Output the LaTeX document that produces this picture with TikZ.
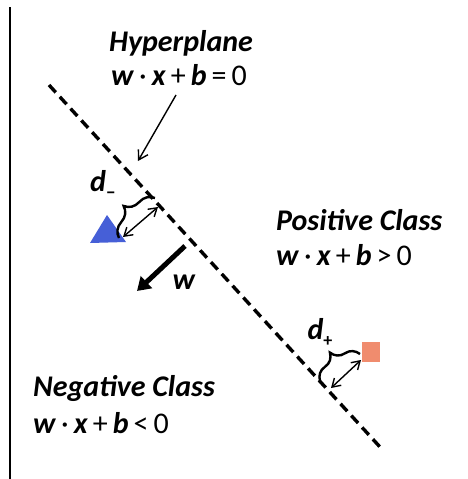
\documentclass[tikz,border=0pt]{standalone}
\usepackage{fontspec}
\setmainfont{Carlito}
\usetikzlibrary{arrows.meta,decorations.pathreplacing}
\definecolor{triblue}{RGB}{70,95,215}
\definecolor{sqred}{RGB}{240,140,110}
\newcommand{\bv}[1]{\textbf{\textit{#1}}}
\newcommand{\op}[1]{\,#1\,}
\tikzset{
  lbl/.style={font=\fontsize{30}{34}\selectfont, inner sep=0pt, align=left},
  hyper/.style={line width=3.4pt, dash pattern=on 10pt off 6pt},
  thinarrow/.style={line width=1.4pt, -{Straight Barb[length=9pt,width=11pt]}},
  dblarrow/.style={line width=1.4pt, {Straight Barb[length=8pt,width=10pt]}-{Straight Barb[length=8pt,width=10pt]}},
  bracestyle/.style={line width=2.4pt, decorate, decoration={brace, amplitude=18pt, aspect=0.5}},
}
\begin{document}
\begin{tikzpicture}[x=1pt,y=-1pt]
\useasboundingbox (0,0) rectangle (468,479);
\fill[white] (0,0) rectangle (468,479);
% left border
\coordinate (bt) at (10,7);
\coordinate (bb) at (10,479);
\draw[line width=2pt] (bt) -- (bb);
% hyperplane
\coordinate (h1) at (49,85);
\coordinate (h2) at (380,447);
\draw[hyper] (h1) -- (h2);
% labels
\node[lbl, anchor=center] (hyp) at (181,43) {\bv{Hyperplane}};
\node[lbl, anchor=center] (hypeq) at (179,75) {\bv{w}\,·\,\bv{x}\op{+}\bv{b}\op{=}0};
\coordinate (hypstart) at (176,95);
\coordinate (hypend) at (138,161);
\draw[thinarrow] (hypstart) -- (hypend);
\node[lbl, anchor=west] (pos) at (276,220) {\bv{Positive Class}};
\node[lbl, anchor=west] (poseq) at (276,255) {\bv{w}\,·\,\bv{x}\op{+}\bv{b}\op{>}0};
\node[lbl, anchor=west] (neg) at (33,388) {\bv{Negative Class}};
\node[lbl, anchor=west] (negeq) at (33,423) {\bv{w}\,·\,\bv{x}\op{+}\bv{b}\op{<}0};
% negative point
\fill[triblue] (90,243) coordinate (t1) -- (107,215) coordinate (t2) -- (126,242) coordinate (t3) -- cycle;
\node[lbl, anchor=center] (dm) at (103,184) {\bv{d}\raisebox{-7pt}{\fontsize{20}{20}\selectfont\bfseries –}};
\coordinate (lm) at (155,198);
\coordinate (tm) at (119,238);
\draw[bracestyle] (tm) -- (lm);
\coordinate (am1) at (158,207);
\coordinate (am2) at (123,237);
\draw[dblarrow] (am1) -- (am2);
% w arrow
\coordinate (w1) at (185,246);
\coordinate (w2) at (137,291);
\draw[line width=5pt, -{Triangle[length=13pt,width=16pt]}] (w1) -- (w2);
\node[lbl] (wl) at (184,282) {\bv{w}};
% positive point
\fill[sqred] (362,342) rectangle (380,362);
\node[lbl, anchor=center] (dp) at (320,332) {\bv{d}\raisebox{-7pt}{\fontsize{18}{18}\selectfont\bfseries +}};
\coordinate (lp) at (320,381);
\coordinate (sp) at (360,354);
\draw[bracestyle] (lp) -- (sp);
\coordinate (ap1) at (331,388);
\coordinate (ap2) at (361,360);
\draw[dblarrow] (ap1) -- (ap2);
\end{tikzpicture}
\end{document}
